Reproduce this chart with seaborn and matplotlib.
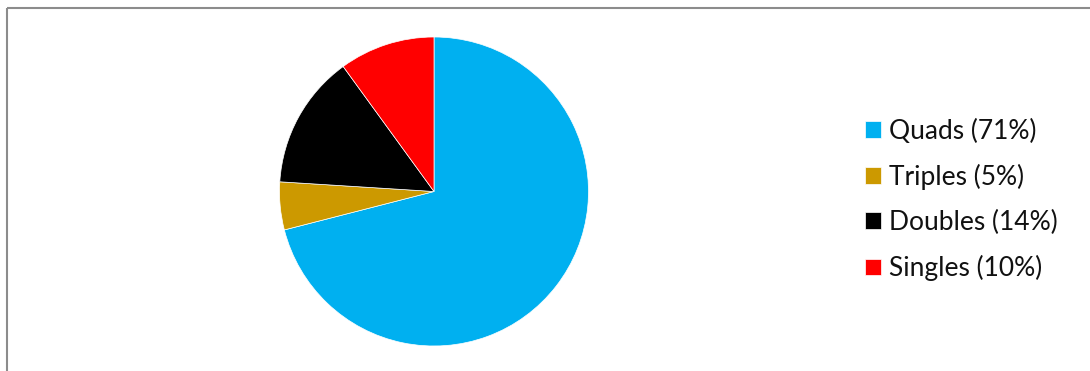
import matplotlib
matplotlib.use("Agg")
import matplotlib.pyplot as plt
from matplotlib.lines import Line2D
import seaborn as sns

sns.set_theme(style="white")
plt.rcParams["font.family"] = ["Lato", "DejaVu Sans"]

categories = ["Quads", "Triples", "Doubles", "Singles"]
shares = [71, 5, 14, 10]
colors = ["#00B0F0", "#CC9900", "#000000", "#FF0000"]
labels = [f"{c} ({v}%)" for c, v in zip(categories, shares)]

W, H = 1090, 371
fig = plt.figure(figsize=(W / 100, H / 100), dpi=100)
fig.patch.set_facecolor("white")

# pie axes: centre (434, 191.5) px, radius 154.5 px
cx, cy, r = 434, 191.5, 154.5
ax = fig.add_axes([(cx - r) / W, (H - cy - r) / H, 2 * r / W, 2 * r / H])
wedges, _ = ax.pie(shares, colors=colors, startangle=90, counterclock=False,
                   radius=1.0,
                   wedgeprops=dict(edgecolor="white", linewidth=0.5))
ax.set_xlim(-1, 1)
ax.set_ylim(-1, 1)
ax.set_aspect("equal")
ax.axis("off")

fs = 19
leg = fig.legend(wedges, labels, loc="center left",
                 bbox_to_anchor=(865 / W, 1 - 200 / H),
                 frameon=False, fontsize=fs, borderpad=0, borderaxespad=0,
                 handlelength=0.6, handleheight=0.6, handletextpad=0.3,
                 labelspacing=0.76)
for t in leg.get_texts():
    t.set_color("#111111")

# outer frame (left and top edges visible)
frame_col = "#8c8c8c"
fig.add_artist(Line2D([7 / W, 7 / W], [0, 1 - 7.7 / H], transform=fig.transFigure,
                      color=frame_col, linewidth=1.5, solid_capstyle="butt"))
fig.add_artist(Line2D([7 / W, 1], [1 - 7.7 / H, 1 - 7.7 / H], transform=fig.transFigure,
                      color=frame_col, linewidth=1.5, solid_capstyle="butt"))

fig.savefig("out.png", dpi=100, facecolor="white")
